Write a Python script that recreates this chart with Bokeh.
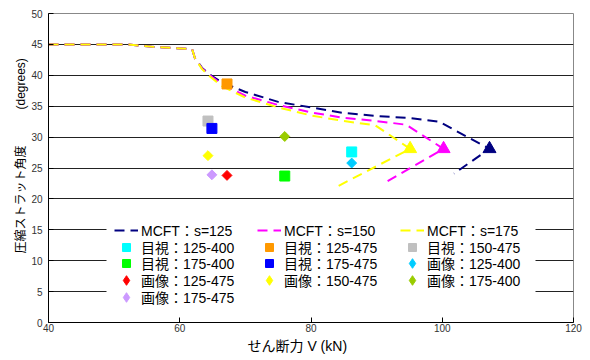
import math
from bokeh.plotting import figure
from bokeh.models import Range1d, FixedTicker, Legend, LegendItem, Title, BoxAnnotation
from bokeh.embed import file_html
from bokeh.resources import INLINE

# MCFT analysis: shear force V (kN) vs. compression strut angle (degrees)
mcft_s125_v = [40, 52, 56, 61, 61.9, 62.3, 63.4, 64.6, 66.5, 70, 75, 80, 85, 90, 95, 99.5, 107.2, 101.8]
mcft_s125_theta = [45, 45, 44.6, 44.3, 44.2, 42.8, 41.2, 40.1, 38.8, 37.3, 35.7, 34.8, 33.9, 33.4, 33.1, 32.5, 28.1, 24.1]

mcft_s150_v = [40, 52, 56, 61, 61.9, 62.3, 63.4, 64.6, 66.5, 70, 75, 80, 85, 90, 94.5, 100.2, 91.4]
mcft_s150_theta = [45, 45, 44.6, 44.3, 44.2, 42.8, 41.1, 40.0, 38.5, 36.7, 35.2, 34.0, 33.1, 32.6, 32.0, 28.1, 22.7]

mcft_s175_v = [40, 52, 56, 61, 61.9, 62.3, 63.4, 64.6, 66.5, 70, 75, 80, 85, 89.8, 95.1, 84.0]
mcft_s175_theta = [45, 45, 44.6, 44.3, 44.2, 42.8, 41.0, 39.8, 38.2, 36.4, 34.8, 33.5, 32.6, 31.9, 28.1, 22.0]

# peak points of each MCFT curve
peak_v = [107.2, 100.2, 95.1]
peak_theta = [28.1, 28.1, 28.1]

# measured strut angles: visual (目視) and image analysis (画像)
visual_labels = ["目視：125-400", "目視：125-475", "目視：150-475", "目視：175-400", "目視：175-475"]
visual_v = [86.2, 67.2, 64.3, 76.0, 64.9]
visual_theta = [27.6, 38.6, 32.6, 23.7, 31.4]

image_labels = ["画像：125-400", "画像：125-475", "画像：150-475", "画像：175-400", "画像：175-475"]
image_v = [86.2, 67.2, 64.3, 76.0, 64.9]
image_theta = [25.8, 23.8, 27.0, 30.1, 23.9]

mcft_labels = ["MCFT：s=125", "MCFT：s=150", "MCFT：s=175"]

x_ticks = [40, 60, 80, 100, 120]
y_ticks = [0, 5, 10, 15, 20, 25, 30, 35, 40, 45, 50]

x_title = "せん断力 V (kN)"
y_title = "圧縮ストラット角度\u3000\u3000\u3000(degrees)"

# styles
mcft_colors = ["#000080", "#FF00FF", "#FFFF00"]
visual_colors = ["#00FFFF", "#FF9900", "#C0C0C0", "#00FF00", "#0000FF"]
image_colors = ["#00CCFF", "#FF0000", "#FFFF00", "#99CC00", "#CC99FF"]

FONT = "Liberation Sans, Noto Sans CJK JP"

p = figure(width=590, height=360, output_backend="svg", toolbar_location=None,
           x_range=Range1d(40, 120), y_range=Range1d(0, 50),
           min_border_left=48, min_border_right=17, min_border_top=13, min_border_bottom=38,
           background_fill_color="white", border_fill_color="white")

p.outline_line_color = "#888888"
p.outline_line_width = 1

p.xgrid.visible = False
p.ygrid.ticker = FixedTicker(ticks=y_ticks[1:-1])
p.ygrid.grid_line_color = "#222222"
p.ygrid.grid_line_width = 1

p.xaxis.ticker = FixedTicker(ticks=x_ticks)
p.yaxis.ticker = FixedTicker(ticks=y_ticks)
for ax in (p.xaxis[0], p.yaxis[0]):
    ax.axis_line_color = "black"
    ax.major_tick_line_color = "black"
    ax.major_tick_in = 5
    ax.major_tick_out = 0
    ax.minor_tick_line_color = None
    ax.major_label_text_font = "Liberation Sans"
    ax.major_label_text_font_size = "10px"
    ax.major_label_text_color = "#333333"
p.xaxis.major_label_standoff = 1
p.yaxis.major_label_standoff = 6

# axis titles as side-panel titles, offset along the frame edge
p.add_layout(Title(text=x_title, align="left", offset=199, standoff=2,
                   text_font=FONT, text_font_size="14px", text_font_style="normal",
                   text_color="black"), "below")
p.add_layout(Title(text=y_title, align="left", offset=69, standoff=2,
                   text_font=FONT, text_font_size="12px", text_font_style="normal",
                   text_color="black"), "left")

# MCFT curves
curves = [(mcft_s125_v, mcft_s125_theta), (mcft_s150_v, mcft_s150_theta), (mcft_s175_v, mcft_s175_theta)]
mcft_renderers = []
for (xs, ys), c in zip(curves, mcft_colors):
    r = p.line(xs, ys, line_color=c, line_width=2, line_dash="10 6")
    mcft_renderers.append(r)

p.scatter(peak_v, peak_theta, marker="triangle", size=13,
          fill_color=mcft_colors, line_color=mcft_colors)

visual_renderers = []
for v, t, c in zip(visual_v, visual_theta, visual_colors):
    r = p.scatter([v], [t], marker="square", size=10, fill_color=c, line_color=c)
    visual_renderers.append(r)

# image-analysis points as diamonds (rotated squares); the legend keys use
# zero-size diamond markers on the same points, since legend keys are not rotated
image_renderers = []
for v, t, c in zip(image_v, image_theta, image_colors):
    p.scatter([v], [t], marker="square", angle=math.pi / 4, size=7, fill_color=c, line_color=c)
    key = p.scatter([v], [t], marker="diamond", size=0, fill_color=c, line_color=c)
    image_renderers.append(key)

items = [LegendItem(label=l, renderers=[r]) for l, r in zip(mcft_labels, mcft_renderers)]
items += [LegendItem(label=l, renderers=[r]) for l, r in zip(visual_labels, visual_renderers)]
items += [LegendItem(label=l, renderers=[r]) for l, r in zip(image_labels, image_renderers)]
key_heights = [20] * (len(mcft_labels) + len(visual_labels)) + [24] * len(image_labels)

# white legend area (frame-relative screen units)
p.add_layout(BoxAnnotation(left=58, right=487, bottom=19, top=104,
                           left_units="screen", right_units="screen",
                           bottom_units="screen", top_units="screen",
                           fill_color="white", fill_alpha=1.0, line_alpha=0,
                           level="annotation"))

# legend grid: 3 columns, filled row by row; row centres 92 px above frame bottom downwards
col_x = [66, 209, 352]
row_pitch = 16.7
for i, (item, gh) in enumerate(zip(items, key_heights)):
    row, col = divmod(i, 3)
    lg = Legend(items=[item], location=(col_x[col], 92 - gh / 2 - row_pitch * row),
                orientation="vertical",
                label_text_font=FONT, label_text_font_size="14px", label_text_color="black",
                glyph_width=24, glyph_height=gh, label_height=20, label_width=20,
                label_standoff=3, spacing=0, padding=0, margin=0,
                border_line_alpha=0, background_fill_alpha=0)
    p.add_layout(lg)

open("out.html", "w").write(file_html(p, INLINE))
